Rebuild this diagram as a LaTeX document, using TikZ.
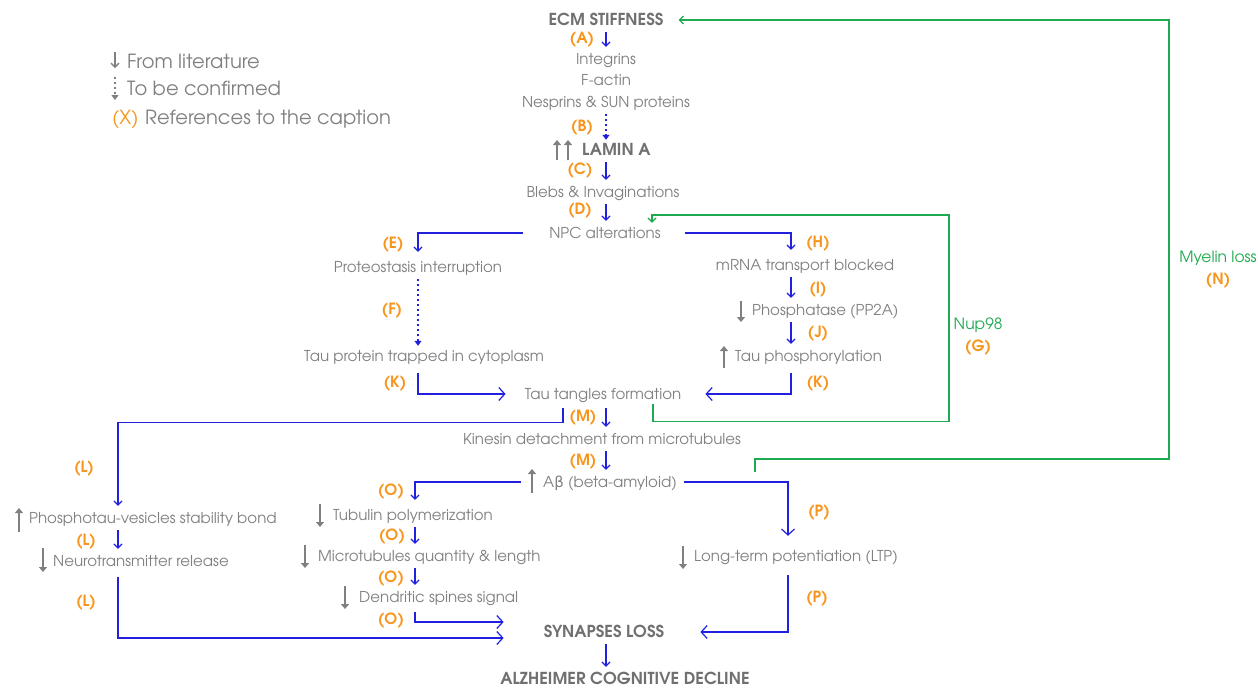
\documentclass[tikz,border=0pt]{standalone}
\usepackage{fontspec}
\setmainfont{TeX Gyre Adventor}
\newfontfamily\grk{DejaVu Sans}
\usetikzlibrary{arrows.meta,calc}
\definecolor{tgray}{RGB}{128,128,128}
\definecolor{hgray}{RGB}{112,112,112}
\definecolor{blu}{RGB}{32,32,222}
\definecolor{orng}{RGB}{247,150,30}
\definecolor{grn}{RGB}{30,170,80}
\newcommand\fs{\fontsize{15}{17}\selectfont}
\newcommand\fb{\fontsize{16.5}{18}\selectfont}
\newcommand\fo{\fontsize{15.5}{17}\selectfont}
\newcommand\fl{\fontsize{19.5}{21}\selectfont}
\tikzset{
  txt/.style={text=tgray, font=\fs, inner sep=2pt, text height=13pt, text depth=3pt},
  hd/.style={txt, text=hgray, font=\fb\bfseries},
  lbl/.style={text=orng, font=\fo\bfseries, inner sep=0pt},
  gtxt/.style={text=grn, font=\fo, inner sep=0pt},
  arr/.style={draw=blu, line width=1.2pt, shorten <=2pt, shorten >=2pt, -{Straight Barb[length=4pt,width=8pt]}},
  darr/.style={draw=blu, line width=2pt, dash pattern=on 2pt off 3pt, shorten <=2pt, -{Triangle[length=5pt,width=7pt]}},
  bigarr/.style={draw=blu, line width=1.2pt, -{Straight Barb[length=6pt,width=13pt]}},
  garr/.style={draw=tgray, line width=2.6pt, -{Triangle[length=5pt,width=8pt]}},
  grnarr/.style={draw=grn, line width=1.2pt, -{Straight Barb[length=4pt,width=8pt]}},
}
\begin{document}
\begin{tikzpicture}[x=1pt,y=-1pt]
\useasboundingbox (0,0) rectangle (1258,689);
% column coordinates
\coordinate (cx) at (606,0);
\coordinate (cL) at (418,0);
\coordinate (cR) at (791,0);
\coordinate (cO) at (415,0);
\coordinate (cP) at (788,0);
\coordinate (cLL) at (118,0);
\coordinate (nupR) at (949,215);
\coordinate (myS) at (755,472);
\coordinate (myR) at (1169,20);

% legend
\draw[draw=tgray, line width=1.3pt, -{Straight Barb[length=4pt,width=8pt]}] (115,52) -- (115,68);
\node[text=tgray, font=\fl, anchor=west, inner sep=0pt] (leg1) at (127,61) {From literature};
\draw[draw=tgray, line width=2pt, dash pattern=on 2pt off 3pt, -{Triangle[length=5pt,width=7pt]}] (115,77) -- (115,100);
\node[text=tgray, font=\fl, anchor=west, inner sep=0pt] (leg2) at (127,88) {To be confirmed};
\node[text=orng, font=\fl, anchor=west, inner sep=0pt] (leg3) at (112,119) {(X)};
\node[text=tgray, font=\fl, anchor=west, inner sep=0pt] (leg4) at (145,119) {References to the caption};

% main nodes
\node[hd] (ecm) at (606,20) {ECM STIFFNESS};
\node[txt] (int) at (606,59) {Integrins};
\node[txt] (fac) at (606,80) {F-actin};
\node[txt] (nes) at (606,102) {Nesprins \& SUN proteins};
\node[hd, anchor=west] (lam) at (580,150) {LAMIN A};
\node[txt] (bleb) at (603,192) {Blebs \& Invaginations};
\node[txt] (npc) at (605,233) {NPC alterations};
\node[txt] (prot) at (418,267) {Proteostasis interruption};
\node[txt] (tpt) at (424,356) {Tau protein trapped in cytoplasm};
\node[txt] (ttf) at (603,394) {Tau tangles formation};
\node[txt] (mrna) at (805,265) {mRNA transport blocked};
\node[txt, anchor=west] (phos) at (750,310) {Phosphatase (PP2A)};
\node[txt, anchor=west] (tph) at (733,356) {Tau phosphorylation};
\node[txt] (kin) at (602,439) {Kinesin detachment from microtubules};
\node[txt, anchor=west] (ab) at (541,482) {A{\grk β} (beta-amyloid)};
\node[txt, anchor=west] (tub) at (331,515) {Tubulin polymerization};
\node[txt, anchor=west] (mic) at (316,556) {Microtubules quantity \& length};
\node[txt, anchor=west] (den) at (357,597) {Dendritic spines signal};
\node[txt, anchor=west] (ltp) at (692,556) {Long-term potentiation (LTP)};
\node[txt, anchor=west] (pho) at (27,518) {Phosphotau-vesicles stability bond};
\node[txt, anchor=west] (neu) at (51,561) {Neurotransmitter release};
\node[hd] (syn) at (604,632) {SYNAPSES LOSS};
\node[hd] (alz) at (625,679) {ALZHEIMER COGNITIVE DECLINE};

% green labels
\node[gtxt] (nup) at (978,325) {Nup98};
\node[lbl] (lG) at (978,348) {(G)};
\node[gtxt] (mye) at (1218,258) {Myelin loss};
\node[lbl] (lN) at (1218,281) {(N)};

% orange labels
\node[lbl] at (582,40) {(A)};
\node[lbl] at (582,128) {(B)};
\node[lbl] at (580,171) {(C)};
\node[lbl] at (580,211) {(D)};
\node[lbl] at (393,245) {(E)};
\node[lbl] at (392,311) {(F)};
\node[lbl] at (395,384) {(K)};
\node[lbl] at (818,244) {(H)};
\node[lbl] at (818,290) {(I)};
\node[lbl] at (818,334) {(J)};
\node[lbl] at (818,384) {(K)};
\node[lbl] at (583,418) {(M)};
\node[lbl] at (583,462) {(M)};
\node[lbl] at (84,469) {(L)};
\node[lbl] at (86,542) {(L)};
\node[lbl] at (86,603) {(L)};
\node[lbl] at (391,492) {(O)};
\node[lbl] at (392,537) {(O)};
\node[lbl] at (391,579) {(O)};
\node[lbl] at (391,621) {(O)};
\node[lbl] at (819,513) {(P)};
\node[lbl] at (817,599) {(P)};

% gray up/down markers
\draw[garr] (557,160) -- (557,140);
\draw[garr] (568,160) -- (568,140);
\draw[garr] (741,301) -- (741,322);
\draw[garr] (724,368) -- (724,346);
\draw[garr] (532,493) -- (532,469);
\draw[garr] (320,504) -- (320,527);
\draw[garr] (305,545) -- (305,568);
\draw[garr] (345,586) -- (345,609);
\draw[garr] (683,546) -- (683,569);
\draw[garr] (19,532) -- (19,508);
\draw[garr] (43,548) -- (43,572);

% vertical chain
\draw[arr] (cx |- ecm.south) -- (cx |- int.north);
\draw[darr] (cx |- nes.south) -- (cx |- lam.north);
\draw[arr] (cx |- lam.south) -- (cx |- bleb.north);
\draw[arr] (cx |- bleb.south) -- (cx |- npc.north);

% left branch
\draw[arr, shorten <=24pt, shorten >=5pt] (npc.west) -| (prot.north);
\draw[darr] (prot.south) -- (prot.south |- tpt.north);
\draw[bigarr, shorten <=7pt, shorten >=17pt] (cL |- tpt.south) |- (ttf.west);

% right branch
\draw[arr, shorten <=22pt, shorten >=5pt] (npc.east) -| (cR |- mrna.north);
\draw[arr] (cR |- mrna.south) -- (cR |- phos.north);
\draw[arr] (cR |- phos.south) -- (cR |- tph.north);
\draw[bigarr, shorten <=7pt, shorten >=22pt] (cR |- tph.south) |- (ttf.east);

% green loops
\draw[grnarr] ([xshift=50pt]ttf.south) -- ++(0,17) -| (nupR) -| ([xshift=47pt]npc.north);
\draw[grnarr, shorten >=13pt] (myS) -- ++(0,-13) -| (myR) -- (ecm.east);

% lower part
\draw[arr, shorten <=4pt] ([xshift=-40pt]ttf.south) -- ++(0,18) -| (cLL |- pho.north);
\draw[arr, shorten <=4pt] (cx |- ttf.south) -- (cx |- kin.north);
\draw[arr] (cx |- kin.south) -- (cx |- ab.north);
\draw[arr] (cLL |- pho.south) -- (cLL |- neu.north);
\draw[bigarr, shorten <=6pt, shorten >=38pt] (cLL |- neu.south) |- ([yshift=-6pt]syn.west);

\draw[arr, shorten <=20pt, shorten >=5pt] (ab.west) -| (cO |- tub.north);
\draw[bigarr, shorten <=5pt, shorten >=10pt] (ab.east) -| (cP |- ltp.north);
\draw[arr] (cO |- tub.south) -- (cO |- mic.north);
\draw[arr] (cO |- mic.south) -- (cO |- den.north);
\draw[bigarr, shorten <=5pt, shorten >=38pt] (cO |- den.south) |- ([yshift=10pt]syn.west);
\draw[bigarr, shorten <=9pt, shorten >=34pt] (cP |- ltp.south) |- (syn.east);
\draw[arr] (cx |- syn.south) -- (cx |- alz.north);
\end{tikzpicture}
\end{document}
